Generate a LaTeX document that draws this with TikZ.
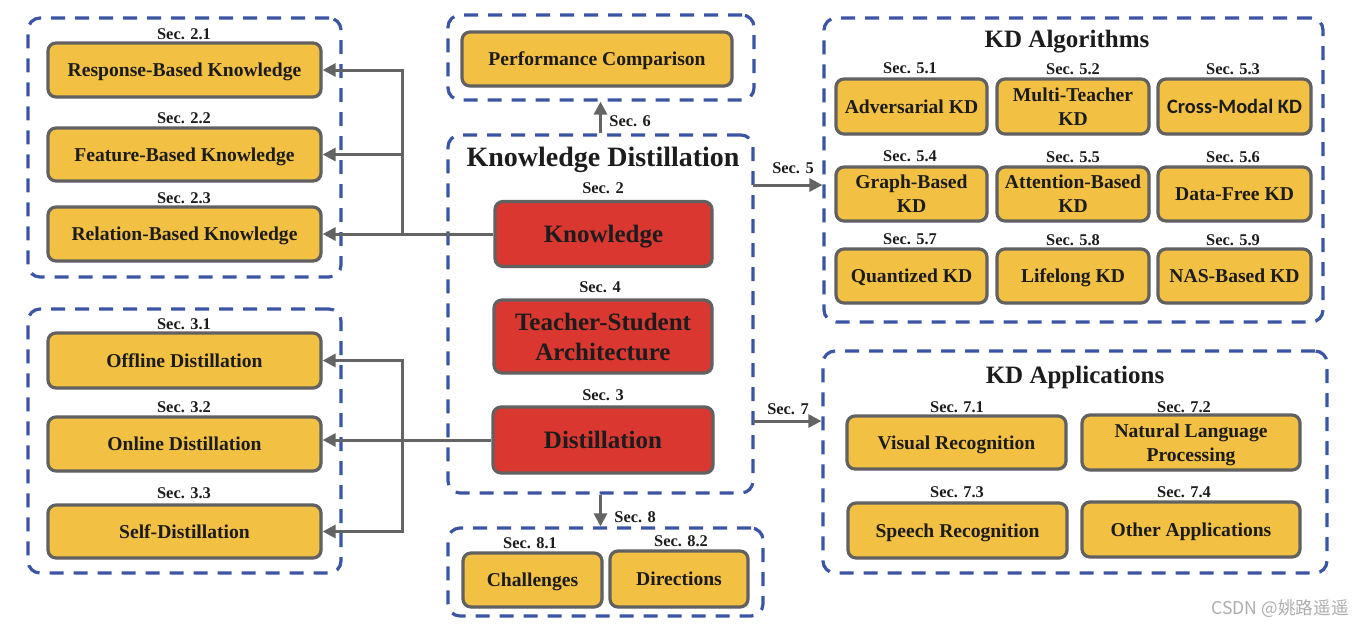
\documentclass[tikz,border=0pt]{standalone}
\usepackage{fontspec}
\setmainfont{Liberation Serif}
\newfontfamily\calibfont{Carlito}
\newfontfamily\cjkfont{Noto Sans CJK SC}
\usetikzlibrary{arrows.meta,shadows}
\definecolor{kdyellow}{HTML}{F2C043}
\definecolor{kdred}{HTML}{DA3731}
\definecolor{kdgray}{HTML}{616161}
\definecolor{kdblue}{HTML}{3A55A4}
\definecolor{kdtext}{HTML}{1C1C1C}
\definecolor{kdarrow}{HTML}{646464}
\tikzset{
	frame/.style={draw=kdblue, line width=1.6pt, dash pattern=on 7pt off 5pt, rounded corners=6pt, inner sep=0pt},
	ybox/.style={draw=kdgray, fill=kdyellow, line width=1.6pt, rounded corners=4pt, text=kdtext, align=center, inner sep=0pt, text depth=0pt,
		font=\fontsize{9.8}{12}\selectfont\bfseries,
		drop shadow={shadow xshift=0.8pt, shadow yshift=-0.8pt, opacity=0.18}},
	rbox/.style={ybox, fill=kdred, font=\fontsize{12.5}{15}\selectfont\bfseries},
	secl/.style={text=kdtext, inner sep=0pt, font=\fontsize{8.2}{10}\selectfont\bfseries},
	ttl/.style={text=kdtext, inner sep=0pt, font=\fontsize{12.5}{15}\selectfont\bfseries},
	link/.style={draw=kdarrow, line width=1.5pt, -{Triangle[length=6.5pt,width=6.5pt]}},
}

\begin{document}
\begin{tikzpicture}[x=0.5pt, y=-0.5pt]
		
		\useasboundingbox (0,0) rectangle (1364,628);
		
		% knowledge
		\node[frame, minimum width=156.5pt, minimum height=129.5pt] (knframe) at (184.5,147.5) {};
		\node[secl] (s21) at (184,34) {Sec. 2.1};
		\node[ybox, minimum width=136.5pt, minimum height=27pt] (resp) at (184.5,70) {Response-Based Knowledge};
		\node[secl] (s22) at (184,118) {Sec. 2.2};
		\node[ybox, minimum width=136.5pt, minimum height=26.5pt] (feat) at (184.5,154.5) {Feature-Based Knowledge};
		\node[secl] (s23) at (184,198) {Sec. 2.3};
		\node[ybox, minimum width=136.5pt, minimum height=27pt] (rela) at (184.5,234) {Relation-Based Knowledge};
		
		% distillation schemes
		\node[frame, minimum width=156.5pt, minimum height=132pt] (dsframe) at (184.5,441) {};
		\node[secl] (s31) at (184,324) {Sec. 3.1};
		\node[ybox, minimum width=136.5pt, minimum height=27.5pt] (off) at (184.5,360.5) {Offline Distillation};
		\node[secl] (s32) at (184,407) {Sec. 3.2};
		\node[ybox, minimum width=136.5pt, minimum height=27pt] (onl) at (184.5,444) {Online Distillation};
		\node[secl] (s33) at (184,493) {Sec. 3.3};
		\node[ybox, minimum width=136.5pt, minimum height=26.5pt] (slf) at (184.5,531.5) {Self-Distillation};
		
		% center
		\node[frame, minimum width=153pt, minimum height=42.5pt] (perfframe) at (601,57.5) {};
		\node[ybox, minimum width=135pt, minimum height=27pt] (perf) at (597,59) {Performance Comparison};
		
		\node[frame, minimum width=152.5pt, minimum height=179pt] (kdframe) at (600.5,314) {};
		\node[text=kdtext, inner sep=0pt, font=\fontsize{14}{16}\selectfont\bfseries] (kdttl) at (603,160) {Knowledge Distillation};
		\node[secl] (s2) at (603,188) {Sec. 2};
		\node[rbox, minimum width=108.5pt, minimum height=32.5pt] (know) at (603.5,234) {Knowledge};
		\node[secl] (s4) at (600,287) {Sec. 4};
		\node[rbox, minimum width=109pt, minimum height=36.5pt] (tsa) at (603,336.5) {Teacher-Student\\Architecture};
		\node[secl] (s3) at (603,395) {Sec. 3};
		\node[rbox, minimum width=110pt, minimum height=33pt] (dist) at (603,440) {Distillation};
		
		\node[frame, minimum width=157.5pt, minimum height=44pt] (futframe) at (605.5,572) {};
		\node[secl] (s81) at (530,543) {Sec. 8.1};
		\node[ybox, minimum width=69.5pt, minimum height=27pt] (chal) at (532.5,580) {Challenges};
		\node[secl] (s82) at (681,541) {Sec. 8.2};
		\node[ybox, minimum width=69pt, minimum height=28pt] (dirc) at (679,579) {Directions};
		
		% algorithms
		\node[frame, minimum width=249.5pt, minimum height=152pt] (algframe) at (1073.5,170) {};
		\node[ttl] (algttl) at (1067,42) {KD Algorithms};
		\node[secl] (s51) at (910,68) {Sec. 5.1};
		\node[ybox, minimum width=75.5pt, minimum height=27.5pt] (adv) at (911.5,106.5) {Adversarial KD};
		\node[secl] (s52) at (1073,69) {Sec. 5.2};
		\node[ybox, minimum width=76pt, minimum height=27.5pt] (mtk) at (1073,106.5) {Multi-Teacher\\KD};
		\node[secl] (s53) at (1233,69) {Sec. 5.3};
		\node[ybox, minimum width=76.5pt, minimum height=27.5pt, font=\fontsize{10.2}{12}\selectfont\calibfont\bfseries] (cmk) at (1234.5,106.5) {Cross-Modal KD};
		\node[secl] (s54) at (910,156) {Sec. 5.4};
		\node[ybox, minimum width=75.5pt, minimum height=27pt] (gbk) at (911.5,194) {Graph-Based\\KD};
		\node[secl] (s55) at (1073,157) {Sec. 5.5};
		\node[ybox, minimum width=76pt, minimum height=27pt] (abk) at (1073,194) {Attention-Based\\KD};
		\node[secl] (s56) at (1233,157) {Sec. 5.6};
		\node[ybox, minimum width=76.5pt, minimum height=27pt] (dfk) at (1234.5,194) {Data-Free KD};
		\node[secl] (s57) at (910,239) {Sec. 5.7};
		\node[ybox, minimum width=75.5pt, minimum height=27pt] (qk) at (911.5,276) {Quantized KD};
		\node[secl] (s58) at (1073,240) {Sec. 5.8};
		\node[ybox, minimum width=76pt, minimum height=27pt] (lk) at (1073,276) {Lifelong KD};
		\node[secl] (s59) at (1233,240) {Sec. 5.9};
		\node[ybox, minimum width=76.5pt, minimum height=27pt] (nask) at (1234.5,276) {NAS-Based KD};
		
		% applications
		\node[frame, minimum width=252pt, minimum height=111pt] (appframe) at (1075,462) {};
		\node[ttl] (appttl) at (1075,377) {KD Applications};
		\node[secl] (s71) at (957,407) {Sec. 7.1};
		\node[ybox, minimum width=109.5pt, minimum height=26.5pt] (vis) at (956.5,442.5) {Visual Recognition};
		\node[secl] (s72) at (1184,407) {Sec. 7.2};
		\node[ybox, minimum width=109pt, minimum height=27.5pt] (nlp) at (1191,442.5) {Natural Language\\Processing};
		\node[secl] (s73) at (957,492) {Sec. 7.3};
		\node[ybox, minimum width=109.5pt, minimum height=27.5pt] (spe) at (957.5,530.5) {Speech Recognition};
		\node[secl] (s74) at (1184,492) {Sec. 7.4};
		\node[ybox, minimum width=109pt, minimum height=27.5pt] (oth) at (1191,529.5) {Other Applications};
		
		% connectors
		\coordinate (kj) at (402,234);
		\coordinate (dj) at (402,441);
		\draw[link] (know.west) -- (rela.east);
		\draw[link] (kj) |- (resp.east);
		\draw[link] (kj) |- (feat.east);
		\draw[link] (dist.west) -- (dist.west -| onl.east);
		\draw[link] (dj) |- (off.east);
		\draw[link] (dj) |- (slf.east);
		
		\draw[link] (kdframe.north) -- (kdframe.north |- perfframe.south);
		\node[secl, anchor=west] (l6) at (609,121) {Sec. 6};
		\draw[link] (kdframe.south) -- (kdframe.south |- futframe.north);
		\node[secl, anchor=west] (l8) at (614,517) {Sec. 8};
		
		\coordinate (s5) at (753,185);
		\draw[link] (s5) -- (s5 -| algframe.west);
		\node[secl] (l5) at (793,168) {Sec. 5};
		\coordinate (s7) at (753,421);
		\draw[link] (s7) -- (s7 -| appframe.west);
		\node[secl] (l7) at (788,409) {Sec. 7};
		
		\node[anchor=east, inner sep=0pt, text=black!32, font=\fontsize{8.8}{10}\selectfont\cjkfont] (wm) at (1349,609) {CSDN @姚路遥遥};
		
\end{tikzpicture}
\end{document}
